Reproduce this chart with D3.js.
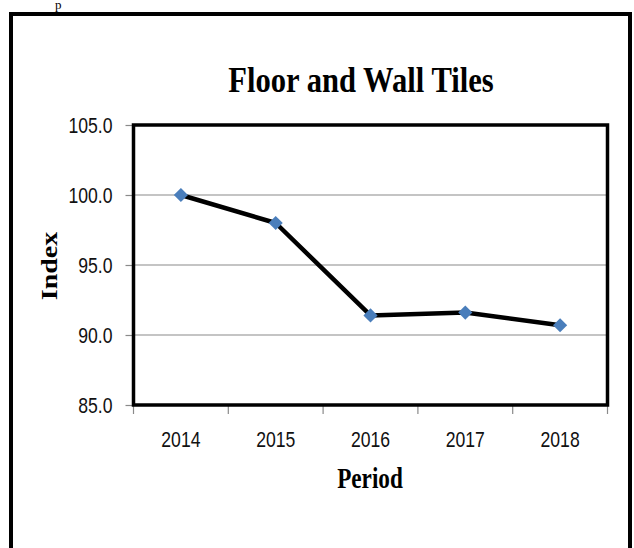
<!DOCTYPE html>
<html>
<head>
<meta charset="utf-8">
<script src="https://cdn.jsdelivr.net/npm/d3@7"></script>
<style>
    body { margin: 0; background: #fff; }
    svg { display: block; }
</style>
</head>
<body>
<div id="chart"></div>
<script>
    "use strict";

    // chart data
    var years = ["2014", "2015", "2016", "2017", "2018"];
    var indexValues = [100.0, 98.0, 91.4, 91.6, 90.7];
    var yTicks = [85, 90, 95, 100, 105];
    var gridValues = [90, 95, 100];
    var titleText = "Floor and Wall Tiles";
    var xTitle = "Period";
    var yTitle = "Index";

    var width = 634, height = 548;
    var plot = {left: 133.5, right: 607.5, top: 125, bottom: 405};
    var squish = 0.8;   // the source picture is narrowed horizontally

    var svg = d3.select("#chart")
        .append("svg")
        .attr("xmlns", "http://www.w3.org/2000/svg")
        .attr("width", width)
        .attr("height", height);

    // bit of the page text above the frame
    svg.append("text")
        .attr("x", 55)
        .attr("y", 9)
        .style("font-family", "'Liberation Serif', 'Times New Roman', serif")
        .style("font-size", "13px")
        .attr("fill", "#000")
        .text("p");

    // outer frame
    svg.append("rect")
        .attr("x", 11)
        .attr("y", 14)
        .attr("width", 619)
        .attr("height", 600)
        .attr("fill", "none")
        .attr("stroke", "#000")
        .attr("stroke-width", 4);

    var x = d3.scaleBand()
        .domain(years)
        .range([plot.left, plot.right]);

    var y = d3.scaleLinear()
        .domain([d3.min(yTicks), d3.max(yTicks)])
        .range([plot.bottom, plot.top]);

    // gridlines
    svg.append("g")
        .attr("class", "grid")
        .selectAll("line")
        .data(gridValues)
        .enter()
        .append("line")
        .attr("x1", plot.left)
        .attr("x2", plot.right)
        .attr("y1", function (d) { return y(d); })
        .attr("y2", function (d) { return y(d); })
        .attr("stroke", "#8a8a8a")
        .attr("stroke-width", 1.2);

    // y axis
    var yAxis = svg.append("g")
        .attr("transform", "translate(" + plot.left + ",0)")
        .call(d3.axisLeft(y).tickValues(yTicks).tickFormat(d3.format(".1f")).tickSize(8));
    yAxis.select(".domain").remove();
    yAxis.selectAll(".tick line").attr("stroke", "#8a8a8a").attr("stroke-width", 1.2);
    yAxis.selectAll(".tick text")
        .attr("x", -21 / squish)
        .attr("dy", "0.36em")
        .attr("transform", "scale(" + squish + ",1)")
        .style("font-family", "'Liberation Sans', Arial, sans-serif")
        .style("font-size", "22px")
        .attr("fill", "#111");

    // x axis (labels centred, ticks on category edges)
    var xAxis = svg.append("g")
        .attr("transform", "translate(0," + plot.bottom + ")")
        .call(d3.axisBottom(x).tickSize(0));
    xAxis.select(".domain").remove();
    xAxis.selectAll(".tick text")
        .attr("x", 0)
        .attr("y", 42)
        .attr("dy", 0)
        .attr("transform", "scale(" + squish + ",1)")
        .style("font-family", "'Liberation Sans', Arial, sans-serif")
        .style("font-size", "22px")
        .attr("fill", "#111");

    var edges = years.map(function (d) { return x(d); }).concat(x.range()[1]);
    xAxis.selectAll("line.edge")
        .data(edges)
        .enter()
        .append("line")
        .attr("class", "edge")
        .attr("x1", function (d) { return d; })
        .attr("x2", function (d) { return d; })
        .attr("y1", 0)
        .attr("y2", 9)
        .attr("stroke", "#8a8a8a")
        .attr("stroke-width", 1.2);

    // plot area border
    svg.append("rect")
        .attr("x", plot.left)
        .attr("y", plot.top)
        .attr("width", plot.right - plot.left)
        .attr("height", plot.bottom - plot.top)
        .attr("fill", "none")
        .attr("stroke", "#000")
        .attr("stroke-width", 3.5);

    // series line
    var points = years.map(function (d, i) {
        return {year: d, value: indexValues[i]};
    });

    var line = d3.line()
        .x(function (d) { return x(d.year) + x.bandwidth() / 2; })
        .y(function (d) { return y(d.value); });

    svg.append("path")
        .datum(points)
        .attr("d", line)
        .attr("fill", "none")
        .attr("stroke", "#000")
        .attr("stroke-width", 4.5)
        .attr("stroke-linejoin", "round");

    // diamond markers
    svg.append("g")
        .selectAll("path")
        .data(points)
        .enter()
        .append("path")
        .attr("d", d3.symbol().type(d3.symbolSquare).size(100))
        .attr("transform", function (d) {
            return "translate(" + (x(d.year) + x.bandwidth() / 2) + "," + y(d.value) + ") rotate(45)";
        })
        .attr("fill", "#4a7ebb");

    // titles
    var serif = "'Liberation Serif', 'Times New Roman', serif";

    svg.append("text")
        .attr("transform", "translate(361,92) scale(0.85,1)")
        .attr("text-anchor", "middle")
        .style("font-family", serif)
        .style("font-weight", "bold")
        .style("font-size", "36px")
        .text(titleText);

    svg.append("text")
        .attr("transform", "translate(370,488) scale(" + squish + ",1)")
        .attr("text-anchor", "middle")
        .style("font-family", serif)
        .style("font-weight", "bold")
        .style("font-size", "29px")
        .text(xTitle);

    svg.append("text")
        .attr("transform", "translate(57,266) rotate(-90) scale(1," + squish + ")")
        .attr("text-anchor", "middle")
        .style("font-family", serif)
        .style("font-weight", "bold")
        .style("font-size", "28px")
        .text(yTitle);
</script>
</body>
</html>
